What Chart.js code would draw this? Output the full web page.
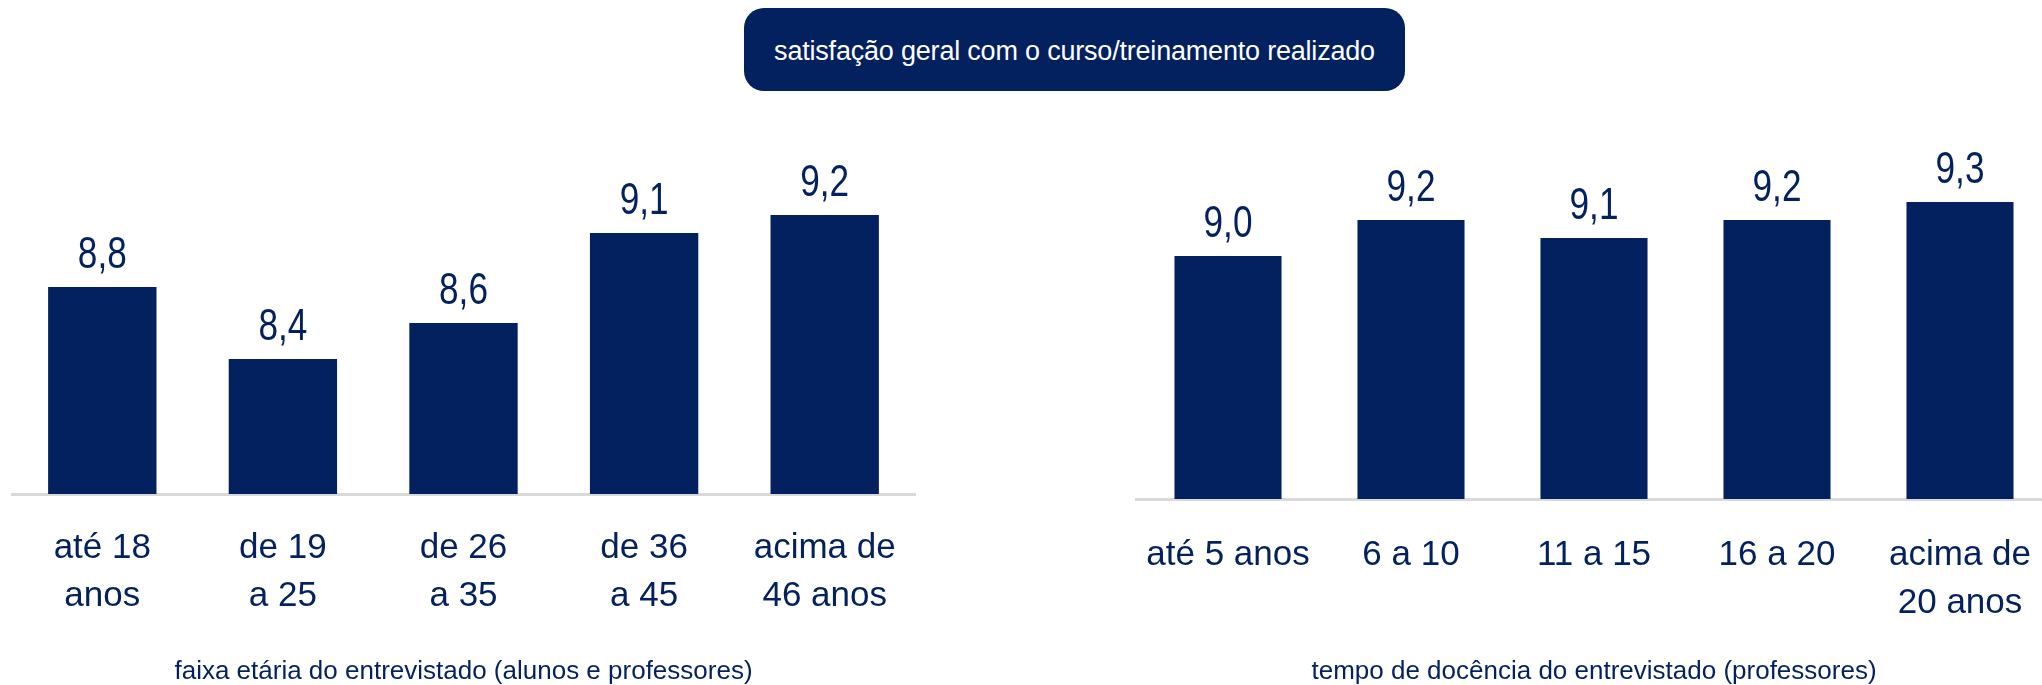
<!DOCTYPE html>
<html>
<head>
<meta charset="utf-8">
<script src="https://cdn.jsdelivr.net/npm/chart.js@4/dist/chart.umd.min.js"></script>
<style>
    html, body { margin: 0; padding: 0; background: #fff; overflow: hidden; }
    body { width: 2042px; height: 685px; position: relative; font-family: "Liberation Sans", Arial, sans-serif; }
    #titulo {
        position: absolute; left: 744px; top: 8px; width: 661px; height: 83px;
        background: #03215f; border-radius: 20px; color: #fff;
        font-size: 27px; line-height: 86px; text-align: center; letter-spacing: -0.2px;
    }
    canvas { position: absolute; top: 0; }
    #graficoIdade { left: 0; }
    #graficoDocencia { left: 1100px; }
</style>
</head>
<body>
<div id="titulo">satisfação geral com o curso/treinamento realizado</div>
<canvas id="graficoIdade" width="930" height="685"></canvas>
<canvas id="graficoDocencia" width="980" height="685"></canvas>
<script>
var idadeCategorias = [['até 18', 'anos'], ['de 19', 'a 25'], ['de 26', 'a 35'], ['de 36', 'a 45'], ['acima de', '46 anos']];
var idadeValores = [8.8, 8.4, 8.6, 9.1, 9.2];
var docenciaCategorias = ['até 5 anos', '6 a 10', '11 a 15', '16 a 20', ['acima de', '20 anos']];
var docenciaValores = [9.0, 9.2, 9.1, 9.2, 9.3];

var azul = '#03215f';
var fonte = '"Liberation Sans", Arial, sans-serif';

function Formata(v) {
    return v.toFixed(1).replace('.', ',');
}

// rotulos de valor em cima das barras (fonte estreita)
var rotulos = {
    id: 'rotulos',
    afterDatasetsDraw: function (chart) {
        var ctx = chart.ctx;
        var meta = chart.getDatasetMeta(0);
        var valores = chart.data.datasets[0].data;
        ctx.save();
        ctx.fillStyle = azul;
        ctx.font = '44px ' + fonte;
        ctx.textAlign = 'center';
        ctx.textBaseline = 'alphabetic';
        meta.data.forEach(function (barra, i) {
            ctx.save();
            ctx.translate(barra.x, barra.y - 19);
            ctx.scale(0.8, 1);
            ctx.fillText(Formata(valores[i]), 0, 0);
            ctx.restore();
        });
        ctx.restore();
    }
};

function MakeChart(id, categorias, valores, tituloEixo, cfg) {
    var ctx = document.getElementById(id).getContext('2d');
    return new Chart(ctx, {
        type: 'bar',
        data: {
            labels: categorias,
            datasets: [{
                data: valores,
                backgroundColor: azul,
                borderWidth: 0,
                barPercentage: cfg.barra,
                categoryPercentage: 1
            }]
        },
        options: {
            responsive: false,
            animation: false,
            devicePixelRatio: 1,
            layout: { padding: { top: cfg.topo, left: cfg.esq, right: cfg.dir, bottom: 0 } },
            plugins: { legend: { display: false }, tooltip: { enabled: false } },
            scales: {
                y: { display: false, min: 7.65, max: 10.0 },
                x: {
                    grid: { display: false, drawTicks: false },
                    border: { color: '#d9d9d9', width: 3 },
                    ticks: {
                        color: azul,
                        padding: cfg.pad,
                        maxRotation: 0,
                        autoSkip: false,
                        font: { family: fonte, size: 35, lineHeight: 1.35 }
                    },
                    title: {
                        display: true,
                        text: tituloEixo,
                        color: azul,
                        padding: 0,
                        font: { family: fonte, size: 26, lineHeight: 1.0 }
                    },
                    afterFit: function (scale) {
                        scale.height = cfg.altEixo;
                    }
                }
            }
        },
        plugins: [rotulos]
    });
}

MakeChart('graficoIdade', idadeCategorias, idadeValores,
    'faixa etária do entrevistado (alunos e professores)',
    { barra: 0.6, topo: 71, esq: 12, dir: 15, pad: 31, altEixo: 191 });

MakeChart('graficoDocencia', docenciaCategorias, docenciaValores,
    'tempo de docência do entrevistado (professores)',
    { barra: 0.585, topo: 76, esq: 36.5, dir: 28.5, pad: 33, altEixo: 186 });
</script>
</body>
</html>
